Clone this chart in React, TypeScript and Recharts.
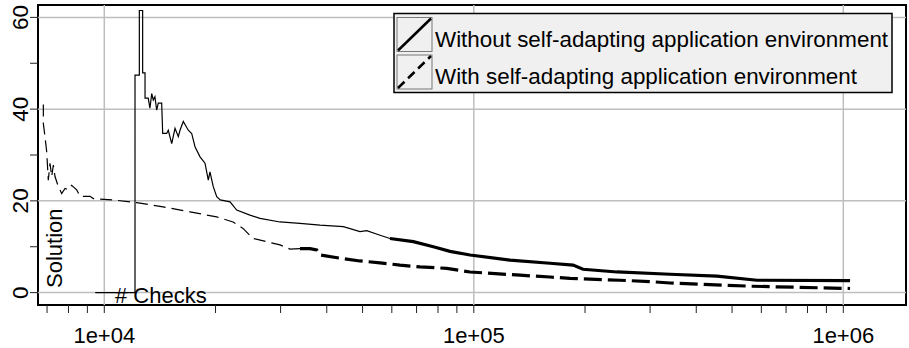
import { LineChart, Line, XAxis, YAxis, ReferenceLine, ReferenceArea } from 'recharts';

// # Checks (x) and Solution (y); each series split into thin and thick parts
const WITHOUT_THIN_CHECKS = [
  9450, 12110, 12110, 12440, 12440, 12700, 12700, 12890, 12890, 13150, 13290, 13440, 13570, 13710,
  13860, 14000, 14300, 14390, 14750, 14900, 15220, 15540, 15860, 16030, 16360, 16880, 17240, 17600,
  18160, 18730, 19120, 19320, 19720, 20150, 20600, 21890, 22820, 24790, 26390, 29890, 33850, 38360,
  44350, 49200, 51310, 55760, 59320,
];
const WITHOUT_THIN_SOLUTION = [
  0, 0, 47.4, 47.4, 61.5, 61.5, 47.9, 47.9, 42.4, 42.4, 40.2, 43.4, 42.0, 42.7,
  39.8, 41.3, 41.3, 34.7, 34.7, 35.4, 32.5, 35.8, 34.0, 35.4, 37.3, 35.4, 34.7, 31.8,
  29.6, 28.2, 24.5, 26.3, 23.1, 20.9, 20.2, 19.8, 18.0, 16.9, 16.2, 15.4, 15.1, 14.7,
  14.4, 13.3, 13.5, 12.5, 11.8,
];
const WITHOUT_THICK_CHECKS = [
  59320, 68610, 77720, 86230, 97660, 125300, 160800, 185600, 197500, 244200, 339700, 455200, 584200, 1043000,
];
const WITHOUT_THICK_SOLUTION = [
  11.8, 11.1, 10.0, 9.0, 8.2, 7.1, 6.4, 6.0, 5.1, 4.5, 4.0, 3.6, 2.7, 2.6,
];

const WITH_THIN_CHECKS = [
  6840, 6840, 6910, 6985, 7054, 7130, 7205, 7280, 7356, 7510, 7670, 7830, 7990, 8160, 8420, 8600,
  9150, 9340, 10580, 12240, 14420, 17060, 20150, 22300, 23740, 25260, 27510, 29890, 31810, 33850,
];
const WITH_THIN_SOLUTION = [
  41.0, 36.9, 34.0, 30.7, 24.5, 28.2, 25.3, 27.8, 25.3, 23.1, 21.6, 22.7, 22.4, 23.4, 22.4, 21.0,
  21.0, 20.5, 20.2, 19.6, 18.7, 17.6, 16.5, 15.4, 14.0, 11.8, 11.1, 10.4, 9.5, 9.6,
];
const WITH_THICK_CHECKS = [
  33850, 36040, 37570, 38360, 43450, 49200, 55760, 63150, 71520, 84480, 97660, 133400, 160800,
  182200, 248700, 299900, 339700, 559400, 1043000,
];
const WITH_THICK_SOLUTION = [
  9.6, 9.6, 9.3, 8.2, 7.5, 6.9, 6.5, 6.0, 5.6, 5.3, 4.5, 3.8, 3.4,
  3.1, 2.7, 2.4, 2.1, 1.4, 0.9,
];

const X_DOMAIN = [6616, 1478000];
const Y_DOMAIN = [-2.7, 62.7];
const X_TICKS = [
  7000, 8000, 9000, 10000, 20000, 30000, 40000, 50000, 60000, 70000, 80000, 90000,
  100000, 200000, 300000, 400000, 500000, 600000, 700000, 800000, 900000, 1000000,
];
const X_LABELS: Record<number, string> = { 10000: '1e+04', 100000: '1e+05', 1000000: '1e+06' };
const Y_TICKS = [0, 10, 20, 30, 40, 50, 60];
const Y_LABELS = [0, 20, 40, 60];
const X_GRID = [10000, 100000, 1000000];

const LEGEND_ITEMS = [
  { label: 'Without self-adapting application environment', dash: undefined },
  { label: 'With self-adapting application environment', dash: '9 5' },
];

const FONT = '"Liberation Sans", Arial, Helvetica, sans-serif';

const zip = (xs: number[], ys: number[]) => xs.map((x, i) => ({ x, y: ys[i] }));

const withoutThin = zip(WITHOUT_THIN_CHECKS, WITHOUT_THIN_SOLUTION);
const withoutThick = zip(WITHOUT_THICK_CHECKS, WITHOUT_THICK_SOLUTION);
const withThin = zip(WITH_THIN_CHECKS, WITH_THIN_SOLUTION);
const withThick = zip(WITH_THICK_CHECKS, WITH_THICK_SOLUTION);

function XTick(props: any) {
  const { x, y, payload } = props;
  const label = X_LABELS[payload.value];
  if (!label) return <g />;
  return (
    <text x={x} y={y + 30} textAnchor="middle" fontSize={22} fontFamily={FONT} fill="#000">
      {label}
    </text>
  );
}

function YTick(props: any) {
  const { x, y, payload } = props;
  if (!Y_LABELS.includes(payload.value)) return <g />;
  const bx = x - 2;
  return (
    <text
      x={bx}
      y={y}
      transform={`rotate(-90, ${bx}, ${y})`}
      textAnchor="middle"
      fontSize={22.5}
      fontFamily={FONT}
      fill="#000"
    >
      {payload.value}
    </text>
  );
}

export default function App() {
  return (
    <div style={{ position: 'absolute', left: 0, top: 0, width: 909, height: 348, background: '#fff' }}>
      <LineChart width={909} height={348} margin={{ top: 5, right: 3, left: 0, bottom: 0 }}>
        <XAxis
          dataKey="x"
          type="number"
          scale="log"
          domain={X_DOMAIN}
          allowDataOverflow
          ticks={X_TICKS}
          interval={0}
          tickSize={8}
          tickMargin={0}
          axisLine={false}
          tickLine={{ stroke: '#222', strokeWidth: 1 }}
          tick={<XTick />}
          height={43}
        />
        <YAxis
          type="number"
          domain={Y_DOMAIN}
          allowDataOverflow
          ticks={Y_TICKS}
          interval={0}
          tickSize={8}
          tickMargin={0}
          axisLine={false}
          tickLine={{ stroke: '#222', strokeWidth: 1 }}
          tick={<YTick />}
          width={38}
        />
        {Y_LABELS.map((v) => (
          <ReferenceLine key={`h${v}`} y={v} stroke="#bebebe" strokeWidth={1.5} />
        ))}
        {X_GRID.map((v) => (
          <ReferenceLine key={`v${v}`} x={v} stroke="#bebebe" strokeWidth={1.5} />
        ))}
        <Line data={withoutThin} dataKey="y" type="linear" stroke="#000" strokeWidth={1.2} dot={false} isAnimationActive={false} />
        <Line data={withoutThick} dataKey="y" type="linear" stroke="#000" strokeWidth={3.2} dot={false} isAnimationActive={false} />
        <Line data={withThin} dataKey="y" type="linear" stroke="#000" strokeWidth={1.2} strokeDasharray="12 6" dot={false} isAnimationActive={false} />
        <Line data={withThick} dataKey="y" type="linear" stroke="#000" strokeWidth={3.2} strokeDasharray="18 6" dot={false} isAnimationActive={false} />
        <ReferenceArea
          x1={X_DOMAIN[0]}
          x2={X_DOMAIN[1]}
          y1={Y_DOMAIN[0]}
          y2={Y_DOMAIN[1]}
          fill="none"
          fillOpacity={0}
          stroke="#000"
          strokeWidth={2}
        />
      </LineChart>
      <svg width={909} height={348} style={{ position: 'absolute', left: 0, top: 0, pointerEvents: 'none' }}>
        <text x={62} y={288} transform="rotate(-90, 62, 288)" fontSize={22} fontFamily={FONT} fill="#000">
          Solution
        </text>
        <text x={115} y={303} fontSize={22} fontFamily={FONT} fill="#000">
          # Checks
        </text>
        <rect x={394} y={13.5} width={498} height={79} fill="#f0f0f0" stroke="#000" strokeWidth={1.5} />
        {LEGEND_ITEMS.map((item, i) => {
          const top = 17.5 + i * 37.5;
          return (
            <g key={item.label}>
              <rect x={397} y={top} width={35} height={34} fill="#f0f0f0" stroke="#777" strokeWidth={1} />
              <line
                x1={398}
                y1={top + 33}
                x2={431}
                y2={top + 1}
                stroke="#000"
                strokeWidth={2.5}
                strokeDasharray={item.dash}
              />
              <text x={435} y={top + 29} fontSize={22.4} fontFamily={FONT} fill="#000">
                {item.label}
              </text>
            </g>
          );
        })}
      </svg>
    </div>
  );
}
